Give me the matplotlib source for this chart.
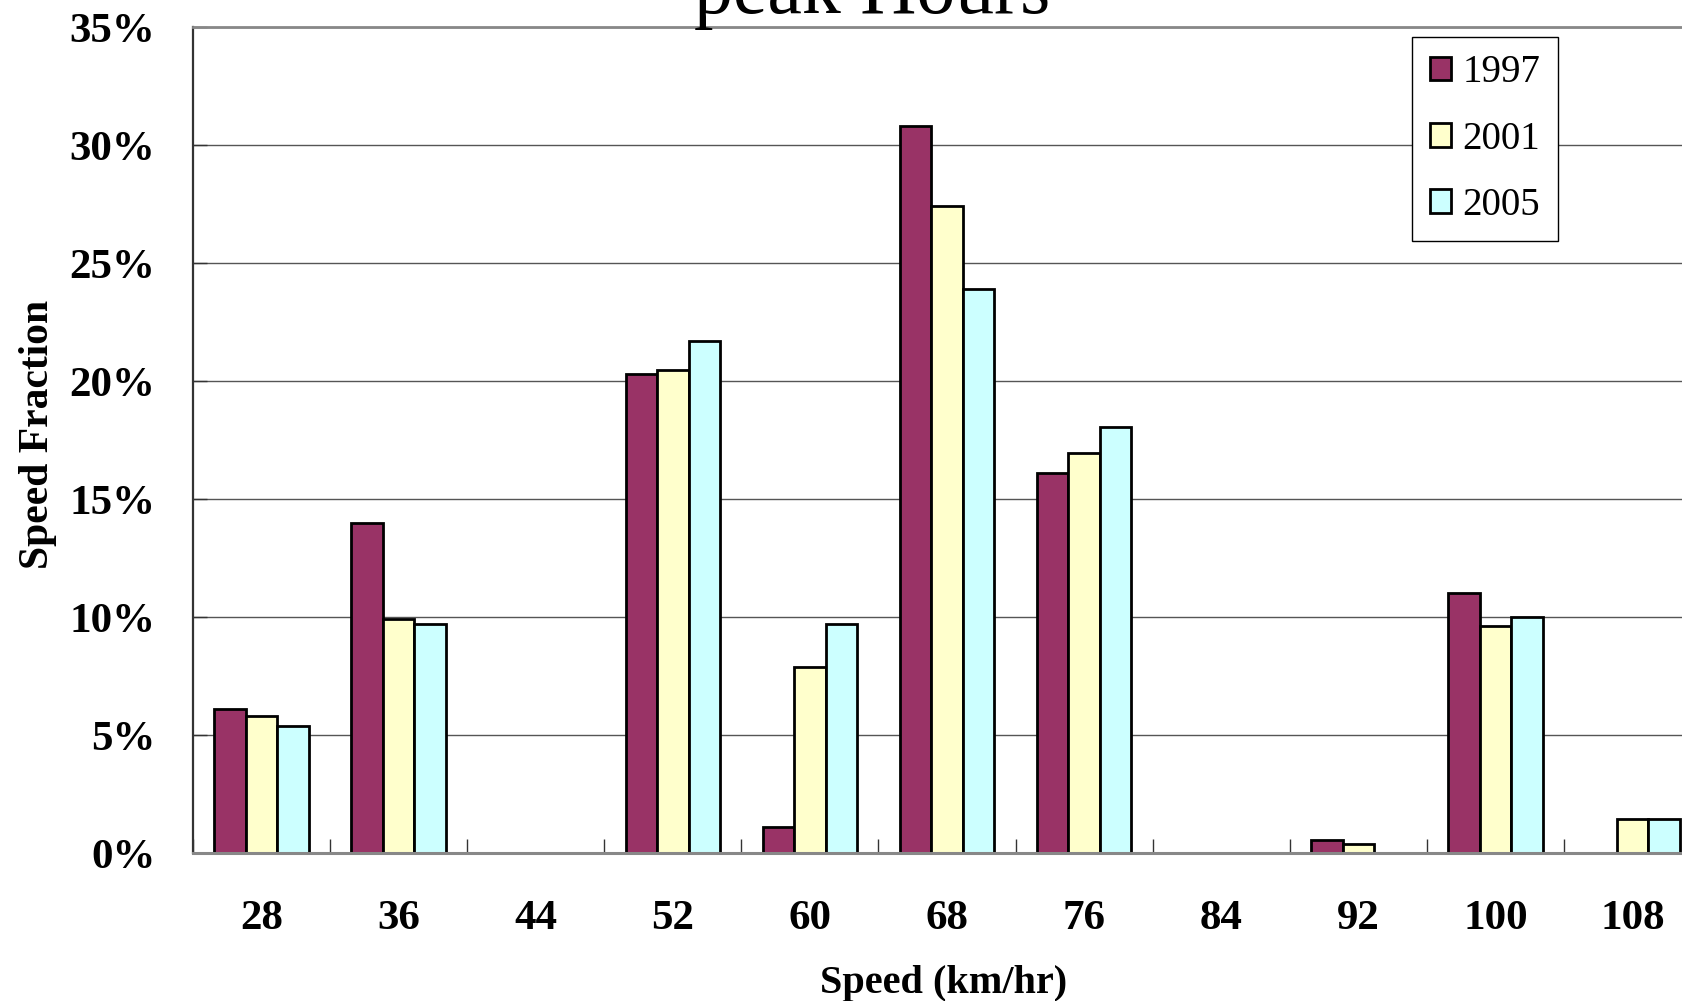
import matplotlib
matplotlib.use('Agg')
import matplotlib.pyplot as plt
from matplotlib.ticker import FuncFormatter, FixedLocator
import numpy as np

# speed classes (km/hr) and share of vehicles per year, in percent
speeds = ['28', '36', '44', '52', '60', '68', '76', '84', '92', '100', '108']
frac_1997 = [6.1, 14.0, 0, 20.3, 1.1, 30.8, 16.1, 0, 0.55, 11.0, 0]
frac_2001 = [5.8, 9.9, 0, 20.45, 7.9, 27.4, 16.95, 0, 0.4, 9.6, 1.45]
frac_2005 = [5.4, 9.7, 0, 21.7, 9.7, 23.9, 18.05, 0, 0, 10.0, 1.45]
years = ['1997', '2001', '2005']
colors = ['#993366', '#FFFFCC', '#CCFFFF']
yticks = [0, 5, 10, 15, 20, 25, 30, 35]


def main():
    W, H = 1682, 1001
    fig = plt.figure(figsize=(W / 100, H / 100), dpi=100)
    # axes run past the right edge of the figure, as in the cropped original
    ax = fig.add_axes([193 / W, 1 - 853 / H, 11 * 137.1 / W, 826 / H])

    serif = 'Liberation Serif'
    x = np.arange(len(speeds))
    w = 0.23
    series = [frac_1997, frac_2001, frac_2005]
    for i, (vals, yr, c) in enumerate(zip(series, years, colors)):
        ax.bar(x + (i - 1) * w, vals, width=w, color=c, edgecolor='black',
               linewidth=2.0, label=yr, zorder=3)

    ax.set_xlim(-0.5, len(speeds) - 0.5)
    ax.set_ylim(0, 35)

    # y axis
    ax.yaxis.set_major_locator(FixedLocator(yticks))
    ax.yaxis.set_major_formatter(FuncFormatter(lambda v, p: '%d%%' % v))
    ax.grid(axis='y', color='#555555', linewidth=1.0, zorder=0)
    ax.tick_params(axis='y', direction='in', length=10, width=1,
                   pad=27, color='#333333')

    # x axis: labels at centres, small ticks at class boundaries
    ax.set_xticks(x)
    ax.set_xticklabels(speeds)
    ax.set_xticks(np.arange(len(speeds) + 1) - 0.5, minor=True)
    ax.tick_params(axis='x', which='major', length=0, pad=34)
    ax.tick_params(axis='x', which='minor', direction='in', length=10,
                   width=1, color='#333333')

    for lab in ax.get_xticklabels() + ax.get_yticklabels():
        lab.set_fontfamily(serif)
        lab.set_fontweight('bold')
        lab.set_fontsize(31)

    ax.spines['left'].set_color('#333333')
    ax.spines['left'].set_linewidth(1.6)
    ax.spines['bottom'].set_color('#888888')
    ax.spines['bottom'].set_linewidth(2.2)
    ax.spines['top'].set_color('#888888')
    ax.spines['top'].set_linewidth(2)
    ax.spines['right'].set_visible(False)
    # baseline drawn over the empty (zero) bars
    ax.spines['bottom'].set_zorder(4)

    fig.text(944 / W, 1 - 983 / H, 'Speed (km/hr)', family=serif,
             weight='bold', fontsize=29, ha='center', va='center')
    fig.text(38 / W, 1 - 434 / H, 'Speed Fraction', family=serif,
             weight='bold', fontsize=30, ha='center', va='center',
             rotation=90)
    # title is mostly cut off at the top of the original
    fig.text(872 / W, 1 - 13 / H, 'peak Hours', family=serif,
             fontsize=56, ha='center', va='baseline')

    leg = ax.legend(loc='upper left', bbox_to_anchor=(1412 / W, 1 - 37 / H),
                    bbox_transform=fig.transFigure, frameon=True,
                    fancybox=False, framealpha=1, edgecolor='black',
                    prop={'family': serif, 'size': 28},
                    handlelength=0.55, handleheight=0.55,
                    handletextpad=0.3, labelspacing=0.75, borderpad=0.45,
                    borderaxespad=0)
    leg.get_frame().set_linewidth(1)
    leg.set_zorder(5)

    plt.savefig('out.png', dpi=100)


if __name__ == "__main__":
    main()
